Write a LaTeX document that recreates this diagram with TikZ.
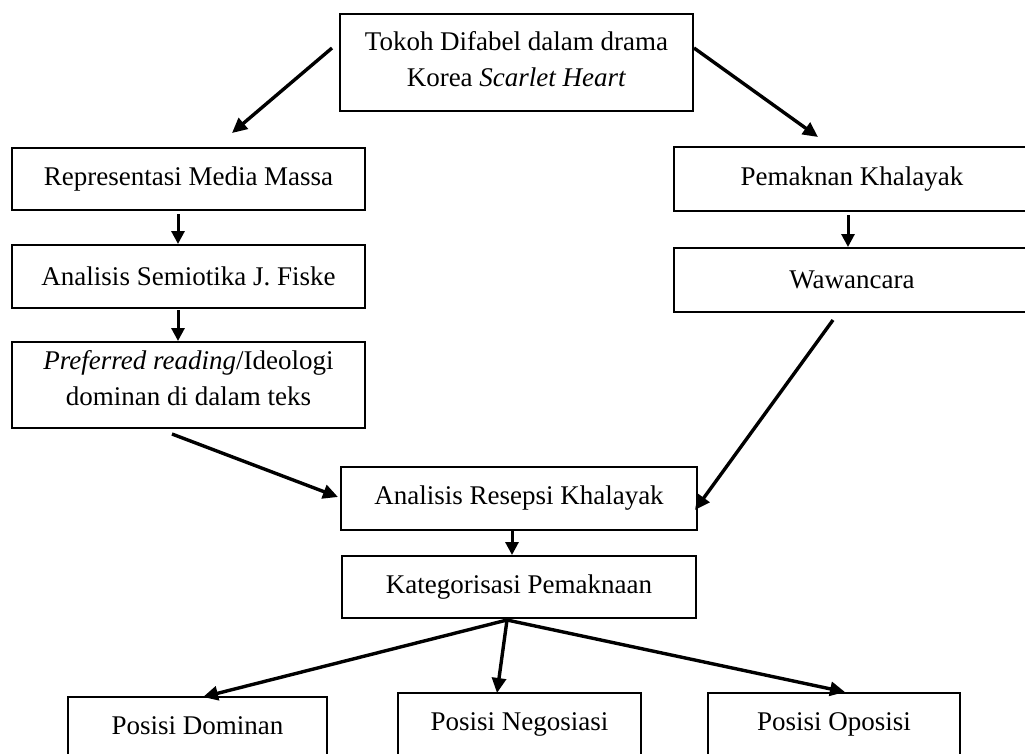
\documentclass[tikz,border=0pt]{standalone}
\usepackage{fontspec}
\setmainfont{Liberation Serif}
\usetikzlibrary{arrows.meta}
\begin{document}
\begin{tikzpicture}[x=1pt,y=-1pt,
  box/.style={draw=black, line width=2pt, inner sep=0pt, align=center,
    font=\fontsize{27}{36}\selectfont},
  txt/.style={inner sep=0pt, align=center, font=\fontsize{27}{36}\selectfont},
  arr/.style={draw=black, line width=3.4pt, -{Triangle[length=15pt,width=14pt]}},
  varr/.style={draw=black, line width=3pt, -{Triangle[length=13pt,width=13pt]}}]
\fill[white] (0,0) rectangle (1025,753);
\clip (0,0) rectangle (1025,753);

\node[box, minimum width=353pt, minimum height=97pt] (top) at (516.5,62.5) {};
\node[txt] (toptext) at (516.5,59.5) {Tokoh Difabel dalam drama\\Korea \textit{Scarlet Heart}};
\node[box, minimum width=353pt, minimum height=62pt] (rep) at (188.5,179) {Representasi Media Massa};
\node[box, minimum width=353pt, minimum height=63pt] (sem) at (188.5,276.5) {Analisis Semiotika J. Fiske};
\node[box, minimum width=353pt, minimum height=86pt] (pref) at (188.5,385) {};
\node[txt] (preftext) at (188.5,378)
  {\textit{Preferred reading}/Ideologi\\dominan di dalam teks};
\node[box, minimum width=356pt, minimum height=64pt] (pem) at (852,179) {Pemaknan Khalayak};
\node[box, minimum width=356pt, minimum height=64pt] (waw) at (852,280) {Wawancara};
\node[box, minimum width=356pt, minimum height=63pt] (ana) at (519,498.5) {Analisis Resepsi Khalayak};
\node[box, minimum width=354pt, minimum height=62pt] (kat) at (519,587) {Kategorisasi Pemaknaan};
\node[box, minimum width=259pt, minimum height=58pt] (dom) at (197.5,726) {Posisi Dominan};
\node[box, minimum width=243pt, minimum height=62pt] (neg) at (519.5,724) {Posisi Negosiasi};
\node[box, minimum width=252pt, minimum height=62pt] (opo) at (834,724) {Posisi Oposisi};

\coordinate (c1s) at (332,48);  \coordinate (c1e) at (232,133);
\coordinate (c2s) at (694,48);  \coordinate (c2e) at (818,137);
\coordinate (c3s) at (178,214);
\coordinate (c4s) at (178,310);
\coordinate (c5s) at (848,215);
\coordinate (c6s) at (833,320); \coordinate (c6e) at (695,510);
\coordinate (c7s) at (172,434); \coordinate (c7e) at (338,497);
\coordinate (c8s) at (512,531);
\coordinate (c9s) at (507,620);
\coordinate (dtip) at (203,697);
\coordinate (ntip) at (497,693);
\coordinate (otip) at (845,692);

\draw[arr] (c1s) -- (c1e);
\draw[arr] (c2s) -- (c2e);
\draw[varr] (c3s) -- (c3s |- sem.north);
\draw[varr] (c4s) -- (c4s |- pref.north);
\draw[varr] (c5s) -- (c5s |- waw.north);
\draw[arr] (c6s) -- (c6e);
\draw[arr] (c7s) -- (c7e);
\draw[varr] (c8s) -- (c8s |- kat.north);
\draw[arr] (c9s) -- (dtip);
\draw[arr] (c9s) -- (ntip);
\draw[arr] (c9s) -- (otip);
\end{tikzpicture}
\end{document}
